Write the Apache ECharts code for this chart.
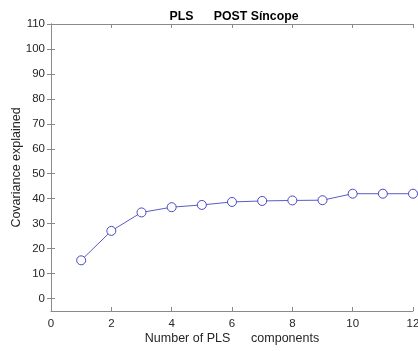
<!DOCTYPE html>
<html><head><meta charset="utf-8">
<script src="https://cdn.jsdelivr.net/npm/echarts@6/dist/echarts.min.js"></script>
<style>html,body{margin:0;padding:0;background:#fff}#c{width:418px;height:351px}</style>
</head><body><div id="c"></div>
<script>
const components = [1,2,3,4,5,6,7,8,9,10,11,12];
const covariance = [15.3,27.1,34.5,36.6,37.5,38.7,39.1,39.3,39.4,42.0,42.0,42.0];
const yTicks = [0,10,20,30,40,50,60,70,80,90,100,110];
const xTicks = [0,2,4,6,8,10,12];
const titleText = 'PLS      POST Síncope';
const xName = 'Number of PLS      components';
const yName = 'Covariance explained';

const font = 'Liberation Sans, Arial, Helvetica, sans-serif';
const axisCol = '#8a8a8a';
const textCol = '#262626';
const lineCol = '#4848c0';
const chart = echarts.init(document.getElementById('c'));
const yAxisBase = {
  type:'value', min:-5, max:110,
  axisLine:{show:true,lineStyle:{color:axisCol,width:1}},
  axisTick:{show:true,inside:true,length:4,customValues:yTicks,lineStyle:{color:axisCol}},
  splitLine:{show:false}
};
const xAxisBase = {
  type:'value', min:0, max:12, interval:2,
  axisLine:{show:true,onZero:false,lineStyle:{color:axisCol,width:1}},
  axisTick:{show:true,inside:true,length:4,customValues:xTicks,lineStyle:{color:axisCol}},
  splitLine:{show:false}
};
chart.setOption({
  animation:false,
  title:{text:titleText,left:229,textAlign:'center',top:6,
    textStyle:{fontFamily:font,fontSize:12.3,fontWeight:'bold',color:'#000'}},
  grid:{left:51,right:5,top:24,bottom:40,containLabel:false,outerBoundsMode:'none'},
  xAxis:[
    Object.assign({},xAxisBase,{position:'bottom',
      name:xName,nameLocation:'middle',nameGap:21,nameMoveOverlap:false,
      nameTextStyle:{fontFamily:font,fontSize:12.5,color:textCol},
      axisLabel:{show:true,margin:7,customValues:xTicks,fontFamily:font,fontSize:11.5,color:textCol}}),
    Object.assign({},xAxisBase,{position:'top',axisLabel:{show:false}})
  ],
  yAxis:[
    Object.assign({},yAxisBase,{position:'left',
      name:yName,nameLocation:'middle',nameGap:28,nameRotate:90,nameMoveOverlap:false,
      nameTextStyle:{fontFamily:font,fontSize:12.5,color:textCol},
      axisLabel:{show:true,margin:6,customValues:yTicks,fontFamily:font,fontSize:11.5,color:textCol}}),
    Object.assign({},yAxisBase,{position:'right',axisLabel:{show:false}})
  ],
  series:[{
    type:'line',
    data:components.map((c,i)=>[c,covariance[i]]),
    symbol:'circle',symbolSize:9,
    lineStyle:{color:lineCol,width:0.9},
    itemStyle:{color:'#ffffff',borderColor:lineCol,borderWidth:1},
    clip:false
  }]
});
</script></body></html>
